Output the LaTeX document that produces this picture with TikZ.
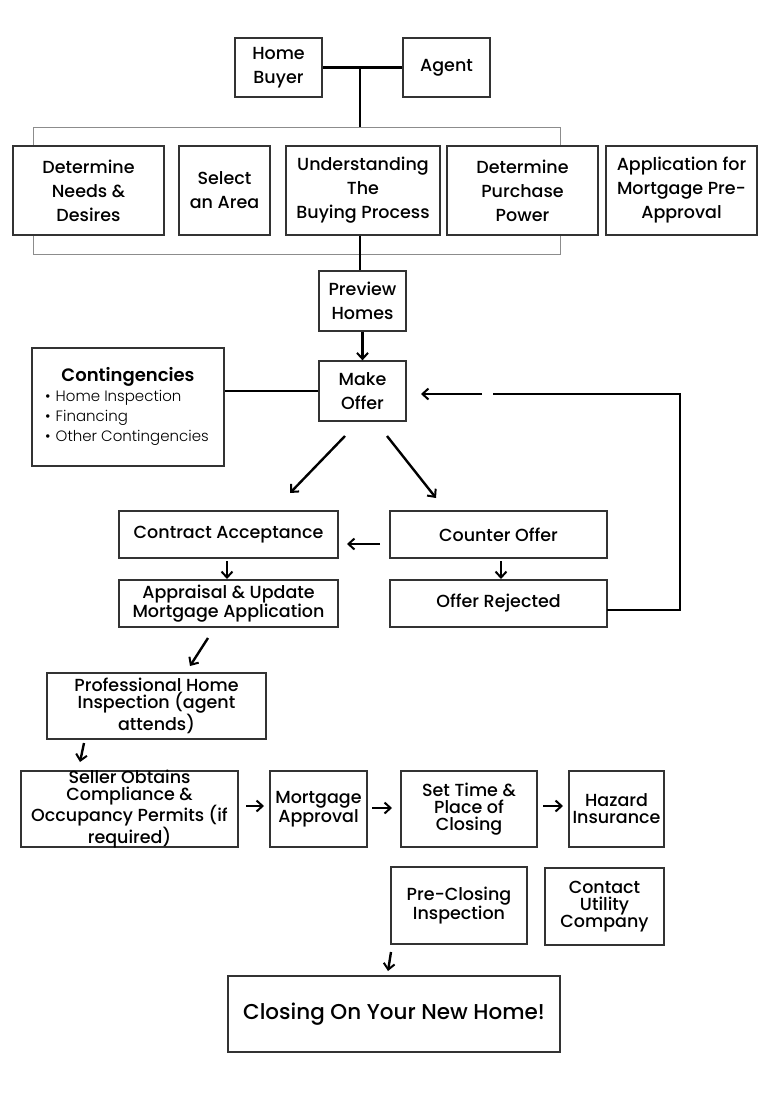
\documentclass[tikz,border=0pt]{standalone}
\usepackage{fontspec}
\setmainfont{Poppins}[UprightFont={* Medium},BoldFont={* SemiBold}]
\newfontfamily\lightfont{Poppins Light}
\usetikzlibrary{arrows.meta}
\begin{document}
\begin{tikzpicture}[x=1pt,y=-1pt,
  box/.style={draw=black!80,line width=1.3pt,fill=white,inner sep=1pt,align=center,
    font=\fontsize{17.5}{24}\selectfont},
  tight/.style={font=\fontsize{17.5}{17}\selectfont,inner ysep=0pt},
  conn/.style={line width=2.6pt},
  arr/.style={line width=2.4pt,-{Straight Barb[length=6pt,width=11pt,line width=2pt]}}]
\useasboundingbox (0,0) rectangle (768,1117);
% gray bracket
\node[draw=black!45,line width=0.8pt,minimum width=527pt,minimum height=127pt,inner sep=0] (grp) at (296.5,190.5) {};
% top
\node[box,minimum width=87pt,minimum height=59pt] (hb) at (278.5,67.5) {Home\\Buyer};
\node[box,minimum width=87pt,minimum height=59pt] (ag) at (446.5,67.5) {Agent};
\node[box,minimum width=151pt,minimum height=89pt] (dnd) at (88.5,190.5) {Determine\\Needs \&\\Desires};
\node[box,minimum width=91pt,minimum height=89pt] (sel) at (224.5,190.5) {Select\\an Area};
\node[box,minimum width=154pt,minimum height=89pt] (und) at (363,190.5) {Understanding\\The\\Buying Process};
\node[box,minimum width=151pt,minimum height=89pt] (dpp) at (522.5,190.5) {Determine\\Purchase\\Power};
\node[box,minimum width=151pt,minimum height=89pt] (app) at (681.5,190.5) {Application for\\Mortgage Pre-\\Approval};
\node[box,minimum width=87pt,minimum height=60pt] (prev) at (362.5,301) {Preview\\Homes};
\node[box,minimum width=87pt,minimum height=60pt] (make) at (362.5,391) {Make\\Offer};
\node[box,minimum width=192pt,minimum height=118pt] (cont) at (128,407) {};
\node[font=\bfseries\fontsize{18}{20}\selectfont,inner sep=0] (ctitle) at (128,377) {Contingencies};
\node[anchor=west,inner sep=0,font=\lightfont\fontsize{15}{16}\selectfont] (c1) at (45,398) {\textbullet\hspace{5pt}Home Inspection};
\node[anchor=west,inner sep=0,font=\lightfont\fontsize{15}{16}\selectfont] (c2) at (45,418) {\textbullet\hspace{5pt}Financing};
\node[anchor=west,inner sep=0,font=\lightfont\fontsize{15}{16}\selectfont] (c3) at (45,438) {\textbullet\hspace{5pt}Other Contingencies};
% middle
\node[box,minimum width=219pt,minimum height=47pt] (ca) at (228.5,534.5) {Contract Acceptance};
\node[box,minimum width=217pt,minimum height=47pt] (co) at (498.5,534.5) {Counter Offer};
\node[box,tight,minimum width=219pt,minimum height=47pt] (apr) at (228.5,603.5) {Appraisal \& Update\\Mortgage Application};
\node[box,minimum width=217pt,minimum height=47pt] (rej) at (498.5,603.5) {Offer Rejected};
\node[box,tight,minimum width=219pt,minimum height=66pt] (phi) at (156.5,706) {Professional Home\\Inspection (agent\\attends)};
% bottom
\node[box,tight,inner ysep=-5pt,minimum width=217pt,minimum height=76pt] (sel2) at (129.5,809) {Seller Obtains\\Compliance \&\\Occupancy Permits (if\\required)};
\node[box,tight,minimum width=97pt,minimum height=76pt] (ma) at (318.5,809) {Mortgage\\Approval};
\node[box,tight,minimum width=136pt,minimum height=76pt] (st) at (469,809) {Set Time \&\\Place of\\Closing};
\node[box,tight,minimum width=95pt,minimum height=76pt] (hz) at (616.5,809) {Hazard\\Insurance};
\node[box,tight,minimum width=136pt,minimum height=77pt] (pc) at (459,905.5) {Pre-Closing\\Inspection};
\node[box,tight,minimum width=119pt,minimum height=77pt] (cu) at (604.5,906.5) {Contact\\Utility\\Company};
\node[box,minimum width=332pt,minimum height=76pt,font=\fontsize{21.5}{24}\selectfont] (cl) at (394,1014) {Closing On Your New Home!};
% connectors
\coordinate (j) at (360,67.5);
\draw[conn] (hb.east) -- (ag.west);
\draw[conn] (j) -- (j |- grp.north);
\draw[conn] (und.south -| j) -- (prev.north -| j);
\draw[arr] (prev.south) -- (make.north);
\draw[conn] (make.west) -- (make.west -| cont.east);
% loop
\coordinate (l0) at (607,610);
\coordinate (l1) at (680,610);
\coordinate (l2) at (680,394);
\coordinate (l3) at (493,394);
\coordinate (l4) at (482,394);
\coordinate (l5) at (421,394);
\draw[conn] (l0) -- (l1) -- (l2) -- (l3);
\draw[arr] (l4) -- (l5);
% diagonals
\coordinate (d1a) at (345,436); \coordinate (d1b) at (290,493);
\coordinate (d2a) at (387,436); \coordinate (d2b) at (436,498);
\draw[arr] (d1a) -- (d1b);
\draw[arr] (d2a) -- (d2b);
\coordinate (h1a) at (380,544); \coordinate (h1b) at (347,544);
\draw[arr] (h1a) -- (h1b);
\coordinate (v1a) at (227,561); \coordinate (v1b) at (227,579);
\draw[arr] (v1a) -- (v1b);
\coordinate (v2a) at (501,561); \coordinate (v2b) at (501,579);
\draw[arr] (v2a) -- (v2b);
\coordinate (a1a) at (208,638); \coordinate (a1b) at (190,666);
\draw[arr] (a1a) -- (a1b);
\coordinate (a2a) at (84,743); \coordinate (a2b) at (80,762);
\draw[arr] (a2a) -- (a2b);
\coordinate (b1a) at (246,806); \coordinate (b1b) at (264,806);
\draw[arr] (b1a) -- (b1b);
\coordinate (b2a) at (372,808); \coordinate (b2b) at (392,808);
\draw[arr] (b2a) -- (b2b);
\coordinate (b3a) at (543,806); \coordinate (b3b) at (563,806);
\draw[arr] (b3a) -- (b3b);
\coordinate (c4a) at (391,952); \coordinate (c4b) at (388,971);
\draw[arr] (c4a) -- (c4b);
\end{tikzpicture}
\end{document}
